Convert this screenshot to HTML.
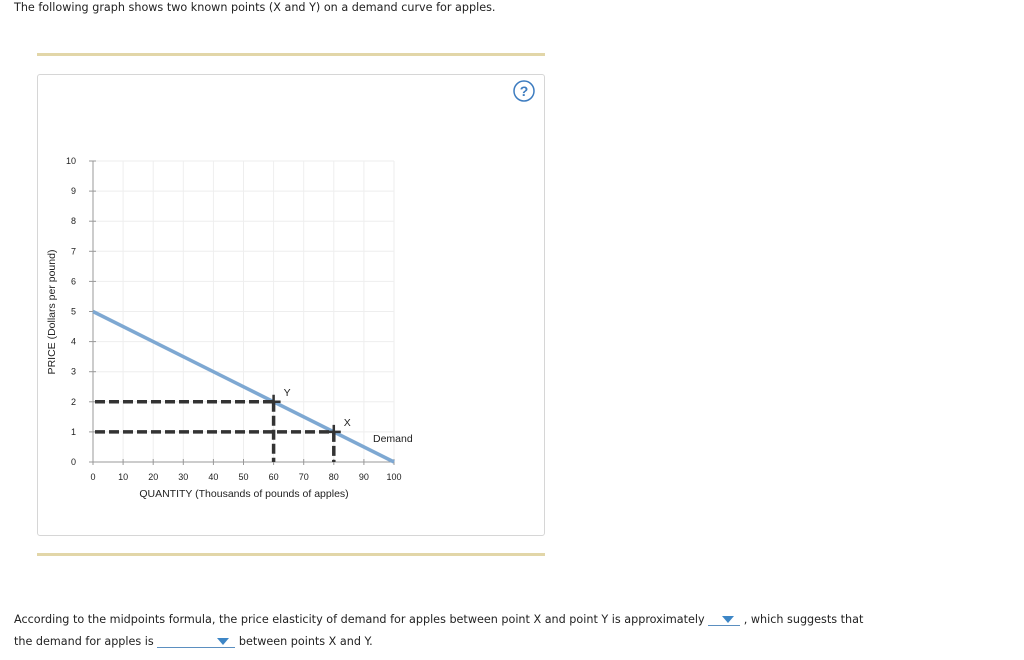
<!DOCTYPE html>
<html><head><meta charset="utf-8"><style>
body{margin:0;width:1024px;height:660px;background:#fff;font-family:"DejaVu Sans",Verdana,sans-serif;font-size:11.2px;color:#222;position:relative;overflow:hidden}
.t{position:absolute;white-space:nowrap}
.bar{position:absolute;left:37px;width:508px;height:3px;background:#e2d6a8}
.panel{position:absolute;left:37px;top:74px;width:506px;height:460px;border:1px solid #d6d6d6;border-radius:3px}
.dd{display:inline-block;border-bottom:1.5px solid #5b8fc0;position:relative;vertical-align:bottom;height:12px}
.dd:after{content:"";position:absolute;right:6px;top:3px;border-left:6px solid transparent;border-right:6px solid transparent;border-top:7px solid #3d86c6}
</style></head><body>
<div class="t" style="left:14px;top:1px">The following graph shows two known points (X and Y) on a demand curve for apples.</div>
<div class="bar" style="top:53px"></div>
<div class="panel"></div>
<div class="bar" style="top:553px"></div>
<svg id="c" width="1024" height="660" style="position:absolute;left:0;top:0"></svg>
<div class="t" style="left:14px;top:613px">According to the midpoints formula, the price elasticity of demand for apples between point X and point Y is approximately <span class="dd" style="width:32px"></span> , which suggests that</div>
<div class="t" style="left:14px;top:635px">the demand for apples is <span class="dd" style="width:78px"></span> between points X and Y.</div>
<script>
const xTicks=[0,10,20,30,40,50,60,70,80,90,100];
const yTicks=[0,1,2,3,4,5,6,7,8,9,10];
const demandQ=[0,100];
const demandP=[5,0];
const pointNames=["Y","X"];
const pointQ=[60,80];
const pointP=[2,1];
const NS="http://www.w3.org/2000/svg",svg=document.getElementById('c');
const X=q=>93+q*3.01, Y=p=>462-p*30.1;
function el(t,a,txt){const e=document.createElementNS(NS,t);for(const k in a)e.setAttribute(k,a[k]);if(txt!=null)e.textContent=txt;svg.appendChild(e);return e;}
const F='font-family:"Liberation Sans",Arial,sans-serif';
xTicks.forEach(v=>{let g=el('line',{x1:X(v),x2:X(v),y1:Y(10),y2:Y(0),stroke:'#eeeeee'});
let tk=el('line',{x1:X(v),x2:X(v),y1:Y(0)-3,y2:Y(0)+3,stroke:'#999'});
let t=el('text',{x:X(v),y:480,'text-anchor':'middle','font-size':9,style:F,fill:'#222'},v);});
yTicks.forEach(v=>{let g=el('line',{x1:X(0),x2:X(100),y1:Y(v),y2:Y(v),stroke:'#eeeeee'});
let tk=el('line',{x1:X(0)-4,x2:X(0)+3,y1:Y(v),y2:Y(v),stroke:'#999'});
let t=el('text',{x:76,y:Y(v)+3,'text-anchor':'end','font-size':9,style:F,fill:'#222'},v);});
let ax=el('line',{x1:X(0),x2:X(0),y1:Y(10),y2:Y(0),stroke:'#999'});
let axx=el('line',{x1:X(0),x2:X(100),y1:Y(0),y2:Y(0),stroke:'#999'});
let d=el('line',{x1:X(demandQ[0]),y1:Y(demandP[0]),x2:X(demandQ[1]),y2:Y(demandP[1]),stroke:'#7ea8d2','stroke-width':3.5});
let dl=el('text',{x:373,y:442,'font-size':10.5,style:F,fill:'#222'},'Demand');
pointQ.forEach((q,i)=>{const px=X(q),py=Y(pointP[i]);
let h=el('line',{x1:X(0)+2,x2:px,y1:py,y2:py,stroke:'#333','stroke-width':3.5,'stroke-dasharray':'10,4'});
let v=el('line',{x1:px,x2:px,y1:py,y2:Y(0),stroke:'#333','stroke-width':3.5,'stroke-dasharray':'10,4'});
let m=el('path',{d:`M${px-7} ${py}H${px+7}M${px} ${py-7}V${py+7}`,stroke:'#333','stroke-width':2.5});
let l=el('text',{x:px+10,y:py-6,'font-size':10.5,style:F,fill:'#222'},pointNames[i]);});
let xt=el('text',{x:244,y:497,'text-anchor':'middle','font-size':10.5,style:F,fill:'#222'},'QUANTITY (Thousands of pounds of apples)');
let yt=el('text',{x:0,y:0,'text-anchor':'middle','font-size':10.5,style:F,fill:'#222',transform:'translate(55,312) rotate(-90)'},'PRICE (Dollars per pound)');
let hc=el('circle',{cx:524,cy:91,r:10,fill:'#fff',stroke:'#3d7cc0','stroke-width':1.5});
let ht=el('text',{x:524,y:96,'text-anchor':'middle','font-size':14,'font-weight':'bold',style:F,fill:'#3d7cc0'},'?');
</script>
</body></html>
